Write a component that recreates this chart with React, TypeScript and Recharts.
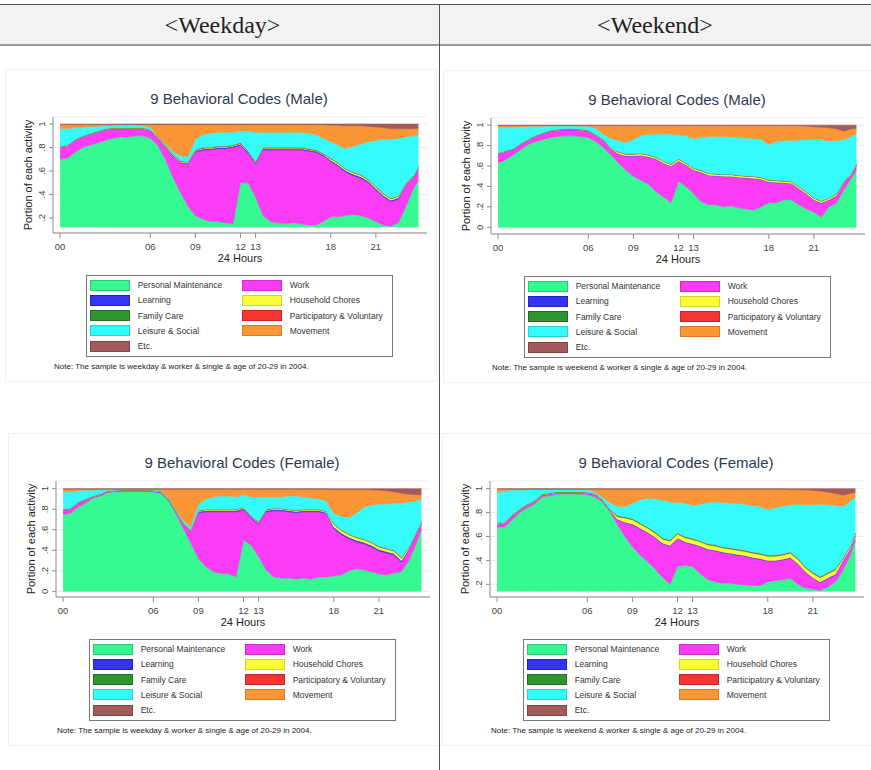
import { Area, AreaChart, CartesianGrid, XAxis, YAxis } from 'recharts'

const SANS = "'Liberation Sans', Arial, Helvetica, sans-serif"
const SERIF = "'Liberation Serif', 'Times New Roman', serif"
const AXIS = '#8c8c8c'

// half-hour slots of the day, the last one is 23:50
const HOURS = [
  0, 0.5, 1, 1.5, 2, 2.5, 3, 3.5, 4, 4.5, 5, 5.5,
  6, 6.5, 7, 7.5, 8, 8.5, 9, 9.5, 10, 10.5, 11, 11.5,
  12, 12.5, 13, 13.5, 14, 14.5, 15, 15.5, 16, 16.5, 17, 17.5,
  18, 18.5, 19, 19.5, 20, 20.5, 21, 21.5, 22, 22.5, 23, 23.5, 23.83,
]
const HOUR_TICKS = [0, 6, 9, 12, 13, 18, 21]

const ACTIVITIES = [
  { key: 'personal', name: 'Personal Maintenance', color: '#35f991', edge: '#27c974' },
  { key: 'work', name: 'Work', color: '#fb3cf7', edge: '#cf2bcb' },
  { key: 'learning', name: 'Learning', color: '#3434f5', edge: '#2323b8' },
  { key: 'chores', name: 'Household Chores', color: '#fbfb37', edge: '#d3d32a' },
  { key: 'family', name: 'Family Care', color: '#2f962f', edge: '#236e23' },
  { key: 'voluntary', name: 'Participatory & Voluntary', color: '#f73434', edge: '#c82525' },
  { key: 'leisure', name: 'Leisure & Social', color: '#35fbfb', edge: '#2ad0d0' },
  { key: 'movement', name: 'Movement', color: '#fb9636', edge: '#d27a27' },
  { key: 'etc', name: 'Etc.', color: '#a35a5a', edge: '#7e4343' },
]

// ---- male, weekday (portion of each activity per slot)
const mwPersonal = [
  .70, .71, .76, .80, .82, .84, .86, .88, .89, .89, .90, .90,
  .88, .82, .70, .55, .42, .30, .22, .19, .17, .17, .16, .15,
  .50, .50, .38, .22, .17, .16, .15, .16, .15, .14, .14, .17,
  .21, .21, .22, .23, .22, .20, .17, .14, .13, .16, .30, .45, .52,
]
const mwWork = [
  .10, .10, .10, .09, .09, .09, .09, .08, .07, .07, .06, .06,
  .06, .06, .10, .18, .25, .36, .54, .59, .61, .62, .63, .65,
  .32, .25, .28, .56, .61, .62, .63, .62, .63, .63, .62, .56,
  .47, .43, .37, .33, .32, .30, .27, .24, .21, .20, .18, .09, .10,
]
const mwLearning = [
  .003, .003, .003, .003, .003, .003, .003, .003, .003, .003, .003, .003,
  .003, .006, .006, .006, .006, .006, .01, .01, .01, .01, .01, .01,
  .01, .01, .01, .01, .01, .01, .01, .01, .01, .01, .01, .01,
  .012, .012, .012, .012, .012, .012, .012, .012, .012, .012, .006, .006, .006,
]
const mwChores = [
  .002, .002, .002, .002, .002, .002, .002, .002, .002, .002, .002, .002,
  .002, .008, .008, .008, .008, .008, .005, .005, .005, .005, .005, .005,
  .005, .005, .005, .005, .005, .005, .005, .005, .005, .005, .005, .005,
  .012, .012, .012, .012, .012, .012, .012, .012, .012, .012, .008, .008, .008,
]
const mwFamily = [
  .003, .003, .003, .003, .003, .003, .003, .003, .003, .003, .003, .003,
  .003, .003, .003, .003, .003, .003, .003, .003, .003, .003, .003, .003,
  .003, .003, .003, .003, .003, .003, .003, .003, .003, .003, .003, .003,
  .003, .003, .003, .003, .003, .003, .003, .003, .003, .003, .003, .003, .003,
]
const mwVoluntary = [
  .001, .001, .001, .001, .001, .001, .001, .001, .001, .001, .001, .001,
  .001, .002, .002, .002, .002, .002, .004, .004, .004, .004, .004, .004,
  .004, .004, .004, .004, .004, .004, .004, .004, .004, .004, .004, .004,
  .003, .003, .003, .003, .003, .003, .003, .003, .003, .003, .002, .002, .002,
]
const mwLeisure = [
  .15, .14, .10, .07, .06, .04, .03, .02, .026, .026, .026, .021,
  .021, .001, .011, .021, .041, .041, .088, .108, .118, .118, .118, .108,
  .098, .168, .248, .128, .128, .128, .128, .128, .128, .128, .128, .128,
  .14, .15, .17, .22, .26, .32, .39, .46, .50, .49, .391, .341, .271,
]
const mwMovement = [
  .035, .035, .025, .025, .015, .015, .005, .005, 0, 0, 0, .005,
  .025, .095, .165, .225, .265, .275, .125, .085, .075, .065, .065, .065,
  .055, .055, .065, .065, .065, .065, .065, .065, .065, .075, .085, .115,
  .14, .17, .195, .175, .155, .13, .115, .10, .09, .08, .07, .06, .055,
]
const mwEtc = [
  .005, .005, .005, .005, .005, .005, .005, .005, .005, .005, .005, .005,
  .005, .005, .005, .005, .005, .005, .005, .005, .005, .005, .005, .005,
  .005, .005, .005, .005, .005, .005, .005, .005, .005, .005, .005, .005,
  .01, .01, .015, .015, .015, .02, .025, .03, .04, .04, .04, .04, .035,
]

// ---- male, weekend
const mePersonal = [
  .63, .66, .71, .76, .81, .84, .86, .88, .89, .895, .895, .89,
  .88, .84, .78, .71, .63, .56, .50, .46, .42, .35, .30, .24,
  .45, .40, .33, .25, .22, .22, .20, .21, .19, .18, .17, .20,
  .24, .24, .27, .27, .22, .18, .15, .10, .20, .235, .37, .48, .56,
]
const meWork = [
  .084, .079, .049, .049, .039, .049, .054, .059, .059, .059, .059, .059,
  .059, .055, .065, .055, .086, .136, .196, .241, .266, .316, .326, .356,
  .196, .206, .226, .286, .286, .281, .296, .286, .296, .301, .306, .266,
  .201, .196, .161, .156, .156, .146, .116, .136, .066, .071, .063, .033, .043,
]
const meLearning = [
  .003, .003, .003, .003, .003, .003, .003, .003, .003, .003, .003, .003,
  .003, .004, .004, .004, .004, .004, .004, .004, .004, .004, .004, .004,
  .004, .004, .004, .004, .004, .004, .004, .004, .004, .004, .004, .004,
  .004, .004, .004, .004, .004, .004, .004, .004, .004, .004, .004, .004, .004,
]
const meChores = [
  .003, .003, .003, .003, .003, .003, .003, .003, .003, .003, .003, .003,
  .003, .006, .006, .006, .015, .015, .015, .015, .015, .015, .015, .015,
  .015, .015, .015, .015, .015, .015, .015, .015, .015, .015, .015, .015,
  .015, .015, .015, .015, .015, .015, .015, .015, .015, .015, .008, .008, .008,
]
const meFamily = [
  .003, .003, .003, .003, .003, .003, .003, .003, .003, .003, .003, .003,
  .003, .003, .003, .003, .003, .003, .003, .003, .003, .003, .003, .003,
  .003, .003, .003, .003, .003, .003, .003, .003, .003, .003, .003, .003,
  .003, .003, .003, .003, .003, .003, .003, .003, .003, .003, .003, .003, .003,
]
const meVoluntary = [
  .002, .002, .002, .002, .002, .002, .002, .002, .002, .002, .002, .002,
  .002, .002, .002, .002, .002, .002, .002, .002, .002, .002, .002, .002,
  .002, .002, .002, .002, .002, .002, .002, .002, .002, .002, .002, .002,
  .002, .002, .002, .002, .002, .002, .002, .002, .002, .002, .002, .002, .002,
]
const meLeisure = [
  .255, .23, .215, .165, .13, .09, .065, .045, .035, .03, .03, .035,
  .04, .06, .05, .09, .11, .11, .14, .17, .20, .225, .265, .29,
  .235, .265, .29, .32, .36, .365, .37, .365, .37, .37, .37, .37,
  .345, .38, .395, .40, .455, .51, .57, .60, .555, .52, .41, .36, .30,
]
const meMovement = [
  .015, .015, .01, .01, .005, .005, .005, 0, 0, 0, 0, 0,
  .005, .025, .085, .125, .145, .165, .135, .10, .085, .08, .08, .085,
  .09, .10, .125, .115, .105, .105, .105, .11, .115, .12, .125, .135,
  .185, .155, .145, .145, .14, .13, .125, .12, .13, .115, .08, .075, .05,
]
const meEtc = [
  .005, .005, .005, .005, .005, .005, .005, .005, .005, .005, .005, .005,
  .005, .005, .005, .005, .005, .005, .005, .005, .005, .005, .005, .005,
  .005, .005, .005, .005, .005, .005, .005, .005, .005, .005, .005, .005,
  .005, .005, .005, .005, .005, .01, .015, .02, .025, .035, .06, .035, .03,
]

// ---- female, weekday
const fwPersonal = [
  .75, .76, .82, .86, .91, .93, .965, .97, .975, .975, .975, .975,
  .97, .955, .89, .76, .61, .47, .32, .24, .19, .175, .175, .14,
  .50, .45, .34, .21, .14, .13, .13, .12, .13, .12, .14, .14,
  .15, .16, .20, .22, .21, .19, .17, .16, .18, .19, .30, .47, .60,
]
const fwWork = [
  .039, .039, .039, .029, .009, .009, .004, .004, .004, .004, .004, .004,
  .004, .007, .002, .012, .042, .112, .445, .535, .585, .60, .60, .635,
  .295, .265, .315, .565, .645, .655, .645, .645, .645, .655, .635, .615,
  .463, .393, .313, .263, .253, .243, .223, .213, .173, .093, .105, .085, .055,
]
const fwLearning = [
  .003, .003, .003, .003, .003, .003, .003, .003, .003, .003, .003, .003,
  .003, .005, .005, .005, .005, .005, .012, .012, .012, .012, .012, .012,
  .012, .012, .012, .012, .012, .012, .012, .012, .012, .012, .012, .012,
  .015, .015, .015, .015, .015, .015, .015, .015, .015, .015, .008, .008, .008,
]
const fwChores = [
  .003, .003, .003, .003, .003, .003, .003, .003, .003, .003, .003, .003,
  .003, .008, .008, .008, .008, .008, .008, .008, .008, .008, .008, .008,
  .008, .008, .008, .008, .008, .008, .008, .008, .008, .008, .008, .008,
  .025, .025, .025, .025, .025, .025, .025, .025, .025, .025, .012, .012, .012,
]
const fwFamily = [
  .003, .003, .003, .003, .003, .003, .003, .003, .003, .003, .003, .003,
  .003, .003, .003, .003, .003, .003, .003, .003, .003, .003, .003, .003,
  .003, .003, .003, .003, .003, .003, .003, .003, .003, .003, .003, .003,
  .005, .005, .005, .005, .005, .005, .005, .005, .005, .005, .003, .003, .003,
]
const fwVoluntary = [
  .002, .002, .002, .002, .002, .002, .002, .002, .002, .002, .002, .002,
  .002, .002, .002, .002, .002, .002, .002, .002, .002, .002, .002, .002,
  .002, .002, .002, .002, .002, .002, .002, .002, .002, .002, .002, .002,
  .002, .002, .002, .002, .002, .002, .002, .002, .002, .002, .002, .002, .002,
]
const fwLeisure = [
  .17, .16, .11, .085, .06, .04, .01, .005, .005, .005, .005, .005,
  .005, .005, .01, .01, .02, .03, .06, .10, .12, .13, .13, .12,
  .12, .18, .24, .12, .11, .11, .13, .14, .12, .11, .10, .10,
  .10, .13, .16, .23, .31, .36, .41, .43, .46, .53, .44, .30, .22,
]
const fwMovement = [
  .025, .025, .015, .01, .005, .005, .005, .005, 0, 0, 0, 0,
  .005, .01, .075, .195, .305, .365, .145, .095, .075, .065, .065, .075,
  .055, .075, .075, .075, .075, .075, .065, .065, .075, .085, .095, .115,
  .23, .26, .27, .23, .17, .15, .135, .13, .11, .095, .075, .06, .04,
]
const fwEtc = [
  .005, .005, .005, .005, .005, .005, .005, .005, .005, .005, .005, .005,
  .005, .005, .005, .005, .005, .005, .005, .005, .005, .005, .005, .005,
  .005, .005, .005, .005, .005, .005, .005, .005, .005, .005, .005, .005,
  .01, .01, .01, .01, .01, .01, .015, .02, .03, .045, .055, .06, .06,
]

// ---- female, weekend
const fePersonal = [
  .68, .68, .74, .80, .84, .87, .93, .94, .955, .955, .955, .955,
  .95, .93, .89, .81, .70, .60, .515, .445, .39, .33, .26, .20,
  .35, .36, .35, .29, .24, .22, .21, .21, .20, .195, .19, .19,
  .22, .23, .24, .25, .20, .17, .16, .15, .18, .22, .32, .445, .57,
]
const feWork = [
  .018, .028, .028, .018, .018, .018, .013, .013, .008, .008, .008, .008,
  .008, .018, .008, .008, .039, .114, .184, .219, .239, .259, .279, .319,
  .229, .189, .184, .224, .249, .259, .254, .244, .244, .239, .229, .219,
  .174, .164, .164, .169, .169, .129, .089, .064, .069, .059, .075, .05, .035,
]
const feLearning = [
  .003, .003, .003, .003, .003, .003, .003, .003, .003, .003, .003, .003,
  .003, .003, .003, .003, .006, .006, .006, .006, .006, .006, .006, .006,
  .006, .006, .006, .006, .006, .006, .006, .006, .006, .006, .006, .006,
  .006, .006, .006, .006, .006, .006, .006, .006, .006, .006, .004, .004, .004,
]
const feChores = [
  .004, .004, .004, .004, .004, .004, .004, .004, .004, .004, .004, .004,
  .004, .004, .004, .004, .02, .035, .035, .035, .035, .035, .035, .035,
  .035, .035, .035, .035, .035, .035, .035, .035, .035, .035, .035, .035,
  .035, .035, .035, .035, .035, .035, .035, .035, .035, .035, .015, .015, .015,
]
const feFamily = [
  .003, .003, .003, .003, .003, .003, .003, .003, .003, .003, .003, .003,
  .003, .003, .003, .003, .008, .008, .008, .008, .008, .008, .008, .008,
  .008, .008, .008, .008, .008, .008, .008, .008, .008, .008, .008, .008,
  .008, .008, .008, .008, .008, .008, .008, .008, .008, .008, .004, .004, .004,
]
const feVoluntary = [
  .002, .002, .002, .002, .002, .002, .002, .002, .002, .002, .002, .002,
  .002, .002, .002, .002, .002, .002, .002, .002, .002, .002, .002, .002,
  .002, .002, .002, .002, .002, .002, .002, .002, .002, .002, .002, .002,
  .002, .002, .002, .002, .002, .002, .002, .002, .002, .002, .002, .002, .002,
]
const feLeisure = [
  .26, .26, .21, .16, .125, .095, .04, .03, .02, .02, .02, .02,
  .02, .015, .02, .055, .075, .085, .125, .19, .24, .275, .315, .32,
  .255, .28, .275, .305, .345, .36, .37, .375, .38, .385, .39, .39,
  .38, .395, .40, .395, .45, .515, .565, .605, .565, .53, .43, .375, .30,
]
const feMovement = [
  .025, .015, .005, .005, 0, 0, 0, 0, 0, 0, 0, 0,
  .005, .02, .065, .11, .145, .145, .12, .09, .075, .08, .09, .105,
  .11, .115, .135, .125, .11, .105, .11, .115, .12, .125, .135, .145,
  .17, .155, .14, .125, .12, .125, .12, .11, .105, .10, .095, .065, .04,
]
const feEtc = [
  .005, .005, .005, .005, .005, .005, .005, .005, .005, .005, .005, .005,
  .005, .005, .005, .005, .005, .005, .005, .005, .005, .005, .005, .005,
  .005, .005, .005, .005, .005, .005, .005, .005, .005, .005, .005, .005,
  .005, .005, .005, .01, .01, .01, .015, .02, .03, .04, .055, .04, .03,
]

interface PanelDef {
  title: string
  note: string
  ox: number
  oy: number
  yDomain: [number, number]
  yTicks: number[]
  base: number
  values: number[][]
}

const PANELS: PanelDef[] = [
  {
    title: '9 Behavioral Codes (Male)',
    note: 'Note: The sample is weekday & worker & single & age of 20-29 in 2004.',
    ox: 0,
    oy: 0,
    yDomain: [0.072, 1.06],
    yTicks: [0.2, 0.4, 0.6, 0.8, 1],
    base: 0.123,
    values: [mwPersonal, mwWork, mwLearning, mwChores, mwFamily, mwVoluntary, mwLeisure, mwMovement, mwEtc],
  },
  {
    title: '9 Behavioral Codes (Male)',
    note: 'Note: The sample is weekend & worker & single & age of 20-29 in 2004.',
    ox: 438,
    oy: 1,
    yDomain: [-0.066, 1.07],
    yTicks: [0, 0.2, 0.4, 0.6, 0.8, 1],
    base: 0,
    values: [mePersonal, meWork, meLearning, meChores, meFamily, meVoluntary, meLeisure, meMovement, meEtc],
  },
  {
    title: '9 Behavioral Codes (Female)',
    note: 'Note: The sample is weekday & worker & single & age of 20-29 in 2004.',
    ox: 3,
    oy: 364,
    yDomain: [-0.055, 1.075],
    yTicks: [0, 0.2, 0.4, 0.6, 0.8, 1],
    base: 0,
    values: [fwPersonal, fwWork, fwLearning, fwChores, fwFamily, fwVoluntary, fwLeisure, fwMovement, fwEtc],
  },
  {
    title: '9 Behavioral Codes (Female)',
    note: 'Note: The sample is weekend & worker & single & age of 20-29 in 2004.',
    ox: 437,
    oy: 364,
    yDomain: [0.094, 1.064],
    yTicks: [0.2, 0.4, 0.6, 0.8, 1],
    base: 0.142,
    values: [fePersonal, feWork, feLearning, feChores, feFamily, feVoluntary, feLeisure, feMovement, feEtc],
  },
]

const formatPortion = (v: number) => {
  if (v === 0) return '0'
  if (v === 1) return '1'
  return v.toFixed(1).replace(/^0/, '')
}

const renderYTick = (props: any) => {
  const { x, y, payload } = props
  const bx = x - 0.5
  return (
    <text
      x={bx}
      y={y}
      transform={`rotate(-90 ${bx} ${y})`}
      textAnchor="middle"
      fontSize={9.5}
      fontFamily={SANS}
      fill="#444"
    >
      {formatPortion(payload.value)}
    </text>
  )
}

function BehaviorPanel({ panel }: { panel: PanelDef }) {
  const { ox, oy } = panel

  // stack the portions into [low, high] bands; the bottom band is drawn from the panel's floor
  const rows = HOURS.map((hour, i) => {
    const row: Record<string, any> = { hour }
    let cum = 0
    panel.values.forEach((vals, s) => {
      const high = cum + vals[i]
      row[ACTIVITIES[s].key] = [s === 0 ? panel.base : cum, high]
      cum = high
    })
    return row
  })

  return (
    <>
      <div
        style={{
          position: 'absolute',
          left: ox + 5,
          top: oy + 69,
          width: 432,
          height: 313,
          border: '1px solid #f0f0f0',
          boxSizing: 'border-box',
        }}
      />
      <div
        style={{
          position: 'absolute',
          left: ox,
          top: oy + 89,
          width: 478,
          textAlign: 'center',
          fontSize: 15,
          lineHeight: '20px',
          color: '#2b3a55',
        }}
      >
        {panel.title}
      </div>
      <div
        style={{
          position: 'absolute',
          left: ox + 28 - 80,
          top: oy + 175 - 7,
          width: 160,
          height: 14,
          lineHeight: '14px',
          fontSize: 11,
          textAlign: 'center',
          color: '#222',
          transform: 'rotate(-90deg)',
        }}
      >
        Portion of each activity
      </div>
      <div
        style={{
          position: 'absolute',
          left: ox + 140,
          top: oy + 251,
          width: 200,
          lineHeight: '14px',
          fontSize: 11,
          textAlign: 'center',
          color: '#222',
        }}
      >
        24 Hours
      </div>
      <div style={{ position: 'absolute', left: ox, top: oy + 110 }}>
        <AreaChart width={437} height={165} data={rows} margin={{ top: 7, right: 10, bottom: 0, left: 0 }}>
          <CartesianGrid vertical={false} stroke="#ededed" />
          <XAxis
            dataKey="hour"
            type="number"
            domain={[-0.47, 24.4]}
            ticks={HOUR_TICKS}
            interval={0}
            allowDataOverflow
            height={42}
            tickSize={5}
            tickMargin={5}
            stroke={AXIS}
            tick={{ fontSize: 9.5, fill: '#444', fontFamily: SANS }}
            tickFormatter={(h) => String(h).padStart(2, '0')}
          />
          <YAxis
            type="number"
            domain={panel.yDomain}
            ticks={panel.yTicks}
            interval={0}
            allowDataOverflow
            width={53}
            tickSize={4}
            tickMargin={3}
            stroke={AXIS}
            tick={renderYTick}
          />
          {ACTIVITIES.map((a) => (
            <Area
              key={a.key}
              type="linear"
              dataKey={a.key}
              name={a.name}
              fill={a.color}
              fillOpacity={1}
              stroke={a.color}
              strokeWidth={0.6}
              dot={false}
              activeDot={false}
              isAnimationActive={false}
            />
          ))}
        </AreaChart>
      </div>
      <div
        style={{
          position: 'absolute',
          left: ox + 86,
          top: oy + 275,
          width: 307,
          height: 82,
          border: '1px solid #777',
          boxSizing: 'border-box',
          background: '#fff',
        }}
      >
        {ACTIVITIES.map((a, i) => {
          const row = Math.floor(i / 2)
          const col = i % 2
          const cy = 9 + row * 15.3
          return (
            <div key={a.key}>
              <div
                style={{
                  position: 'absolute',
                  left: 3 + col * 152.3,
                  top: cy - 5.5,
                  width: 40,
                  height: 11,
                  background: a.color,
                  border: `1px solid ${a.edge}`,
                  boxSizing: 'border-box',
                }}
              />
              <div
                style={{
                  position: 'absolute',
                  left: 50.7 + col * 152,
                  top: cy - 6,
                  lineHeight: '12px',
                  fontSize: 8.5,
                  color: '#333',
                  whiteSpace: 'nowrap',
                }}
              >
                {a.name}
              </div>
            </div>
          )
        })}
      </div>
      <div
        style={{
          position: 'absolute',
          left: ox + 54,
          top: oy + 362,
          lineHeight: '10px',
          fontSize: 8,
          color: '#222',
          whiteSpace: 'nowrap',
        }}
      >
        {panel.note}
      </div>
    </>
  )
}

export default function App() {
  return (
    <div
      style={{
        position: 'absolute',
        left: 0,
        top: 0,
        width: 871,
        height: 770,
        background: '#fff',
        overflow: 'hidden',
        fontFamily: SANS,
      }}
    >
      <div style={{ position: 'absolute', left: 0, top: 5, width: 871, height: 39, background: '#f2f2f2' }} />
      <div style={{ position: 'absolute', left: 0, top: 4, width: 871, height: 1, background: '#555' }} />
      <div style={{ position: 'absolute', left: 0, top: 44, width: 871, height: 2, background: '#9a9a9a' }} />
      <div
        style={{
          position: 'absolute',
          left: 3,
          top: 10,
          width: 439,
          textAlign: 'center',
          fontFamily: SERIF,
          fontSize: 24,
          lineHeight: '30px',
          color: '#222',
        }}
      >
        {'<Weekday>'}
      </div>
      <div
        style={{
          position: 'absolute',
          left: 440,
          top: 10,
          width: 430,
          textAlign: 'center',
          fontFamily: SERIF,
          fontSize: 24,
          lineHeight: '30px',
          color: '#222',
        }}
      >
        {'<Weekend>'}
      </div>
      {PANELS.map((p, i) => (
        <BehaviorPanel key={i} panel={p} />
      ))}
      <div style={{ position: 'absolute', left: 439, top: 4, width: 1, height: 766, background: '#555' }} />
    </div>
  )
}
